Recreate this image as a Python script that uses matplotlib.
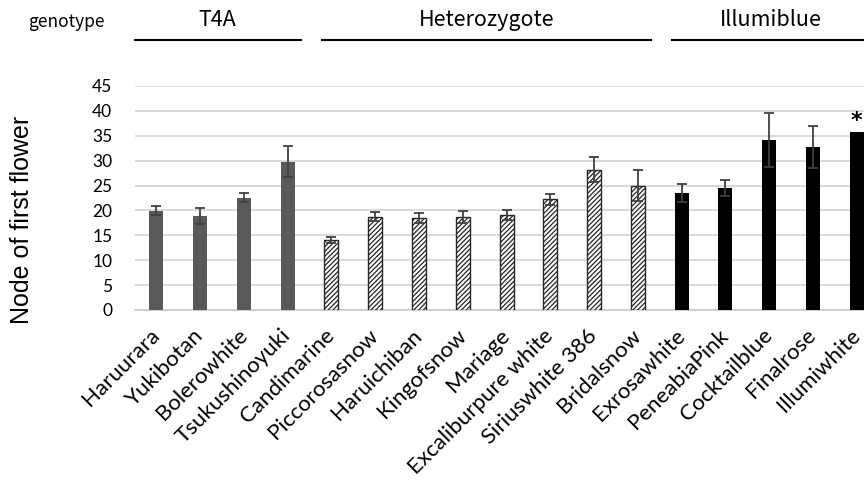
import numpy as np
import matplotlib
matplotlib.use("Agg")
import matplotlib.pyplot as plt
import matplotlib.transforms as mtransforms

# cultivars and measured node of first flower (mean, SD)
cultivars = ["Haruurara", "Yukibotan", "Bolerowhite", "Tsukushinoyuki",
             "Candimarine", "Piccorosasnow", "Haruichiban", "Kingofsnow",
             "Mariage", "Excaliburpure white", "Siriuswhite 386", "Bridalsnow",
             "Exrosawhite", "PeneabiaPink", "Cocktailblue", "Finalrose", "Illumiwhite"]
node_mean = [19.9, 18.9, 22.6, 29.8,
             14.1, 18.7, 18.4, 18.6, 19.0, 22.2, 28.2, 25.0,
             23.5, 24.5, 34.2, 32.8, 35.8]
node_sd = [0.9, 1.6, 0.9, 3.1,
           0.6, 0.9, 1.0, 1.2, 1.0, 1.2, 2.5, 3.2,
           1.9, 1.6, 5.4, 4.2, 0.0]
genotype = ["T4A"] * 4 + ["Heterozygote"] * 8 + ["Illumiblue"] * 5
groups = ["T4A", "Heterozygote", "Illumiblue"]
starred = ["Illumiwhite"]

style = {
    "T4A": dict(color="#595959", edgecolor="#595959", hatch=None),
    "Heterozygote": dict(color="white", edgecolor="#262626", hatch="///////"),
    "Illumiblue": dict(color="black", edgecolor="black", hatch=None),
}

plt.rcParams["hatch.linewidth"] = 0.9
plt.rcParams["font.family"] = ["Lato", "DejaVu Sans"]

fig = plt.figure(figsize=(8.64, 4.82), dpi=100)
ax = fig.add_axes([134.6 / 864, 1 - 310 / 482, (864 - 134.6) / 864, 224 / 482])

x = np.arange(len(cultivars))
for i in range(len(cultivars)):
    st = style[genotype[i]]
    ax.bar(x[i], node_mean[i], width=0.32, color=st["color"], edgecolor=st["edgecolor"],
           hatch=st["hatch"], linewidth=1.0 if st["hatch"] else 0, zorder=3)
    if node_sd[i] > 0:
        ax.errorbar(x[i], node_mean[i], yerr=node_sd[i], fmt="none", ecolor="#404040",
                    elinewidth=1.3, capsize=3.5, capthick=1.3, zorder=4)
    if cultivars[i] in starred:
        ax.text(x[i], node_mean[i] + 0.2, "*", ha="center", va="bottom",
                fontsize=16, fontweight="bold", family="DejaVu Sans")

ax.set_xlim(-0.5, 16.17)
ax.set_ylim(0, 45)
ax.set_yticks(np.arange(0, 46, 5))
ax.yaxis.grid(True, color="#d9d9d9", linewidth=1.4, zorder=0)
ax.set_axisbelow(True)
for s in ["top", "right", "left"]:
    ax.spines[s].set_visible(False)
ax.spines["bottom"].set_color("#d0d0d0")
ax.spines["bottom"].set_linewidth(1.4)
ax.tick_params(axis="both", length=0, colors="black")
ax.tick_params(axis="y", pad=16, labelsize=12.5)
ax.set_xticks(x)
ax.set_xticklabels(cultivars, rotation=45, ha="right", va="top", rotation_mode="anchor",
                   fontsize=16)
ax.tick_params(axis="x", pad=11)
# nudge the slanted labels a little to the left
shift = mtransforms.ScaledTranslation(-7 / 100, 0, fig.dpi_scale_trans)
for lab in ax.get_xticklabels():
    lab.set_transform(lab.get_transform() + shift)

fig.text(22 / 864, 1 - 220 / 482, "Node of first flower", rotation=90, ha="center",
         va="center", fontsize=18, family=["Liberation Sans"])

# genotype header with underlines
trans = mtransforms.blended_transform_factory(ax.transData, fig.transFigure)
fig.text(28 / 864, 1 - 22 / 482, "genotype", ha="left", va="center", fontsize=12.5,
         family=["Noto Sans CJK JP", "DejaVu Sans"])
for g in groups:
    idx = [i for i in range(len(genotype)) if genotype[i] == g]
    x0 = -0.5 if idx[0] == 0 else idx[0] - 0.22
    x1 = idx[-1] + 0.3
    ax.plot([x0, x1], [1 - 40 / 482] * 2, color="black", linewidth=1.5,
            transform=trans, clip_on=False)
    xc = (x0 + x1) / 2 if g != "Illumiblue" else idx[0] + 2.05
    ax.text(xc, 1 - 20 / 482, g, ha="center", va="center", fontsize=15.5,
            transform=trans, family=["Noto Sans CJK JP", "DejaVu Sans"])

plt.savefig("out.png", dpi=100)
